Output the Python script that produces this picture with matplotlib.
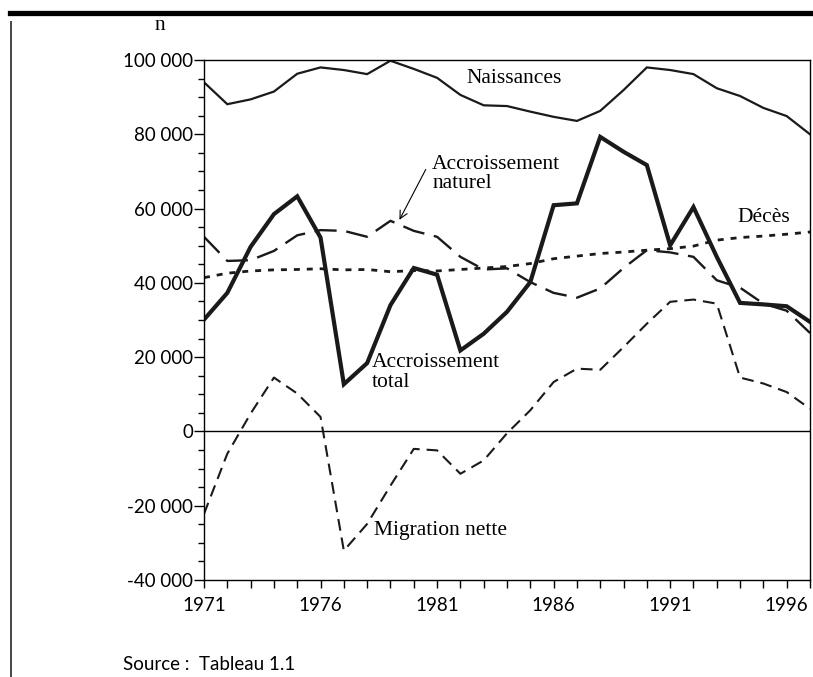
import numpy as np
import matplotlib
matplotlib.use("Agg")
import matplotlib.pyplot as plt
from matplotlib.ticker import MultipleLocator, FixedLocator, FuncFormatter
from matplotlib.lines import Line2D

# data, in thousands
years = np.arange(1971, 1998)
naissances = [94.0, 88.1, 89.4, 91.5, 96.3, 98.0, 97.3, 96.2, 99.8, 97.6, 95.2, 90.6, 87.8,
              87.6, 86.1, 84.7, 83.6, 86.3, 91.9, 98.0, 97.3, 96.2, 92.4, 90.3, 87.1, 84.9, 80.0]
acc_total = [30.1, 37.3, 49.7, 58.5, 63.3, 52.2, 12.7, 18.4, 34.0, 44.0, 42.2, 21.8, 26.3,
             32.2, 40.2, 60.9, 61.4, 79.3, 75.3, 71.7, 50.1, 60.4, 47.0, 34.6, 34.2, 33.7, 29.5]
acc_naturel = [52.4, 45.9, 46.1, 48.6, 52.8, 54.2, 54.0, 52.4, 56.7, 54.0, 52.4, 47.0, 43.6,
               43.9, 40.2, 37.3, 36.0, 38.5, 44.0, 48.8, 48.2, 47.0, 40.7, 38.7, 34.4, 32.5, 26.5]
deces = [41.4, 42.6, 43.2, 43.5, 43.6, 43.8, 43.5, 43.6, 43.0, 43.3, 43.2, 43.6, 44.0,
         44.4, 45.2, 46.5, 47.2, 47.9, 48.3, 48.8, 49.2, 49.9, 51.5, 52.2, 52.6, 53.1, 53.7]
migration = [-22.2, -6.0, 4.8, 14.5, 10.2, 3.9, -32.1, -24.9, -14.6, -4.7, -5.1, -11.4, -7.8,
             -0.5, 5.7, 13.3, 16.9, 16.6, 22.7, 29.0, 34.9, 35.5, 34.4, 14.5, 12.9, 10.6, 6.1]
year_labels = [1971, 1976, 1981, 1986, 1991, 1996]

plt.rcParams['lines.scale_dashes'] = False
serif = 'Liberation Serif'
sans = 'Lato'

W, H = 813, 677
fig = plt.figure(figsize=(W / 100, H / 100), dpi=100)
ax = fig.add_axes([204 / W, 1 - 580 / H, (810 - 204) / W, (580 - 60) / H])

k = lambda v: np.array(v) * 1000

ax.axhline(0, color='black', lw=1.0, zorder=1)
ax.plot(years, k(naissances), color='#1a1a1a', lw=1.6, solid_joinstyle='miter')
ax.plot(years, k(acc_total), color='#1a1a1a', lw=3.0, solid_joinstyle='miter')
ax.plot(years, k(acc_naturel), color='#1a1a1a', lw=1.7, dashes=(16, 7))
ax.plot(years, k(deces), color='#1a1a1a', lw=2.0, dashes=(4.3, 5))
ax.plot(years, k(migration), color='#1a1a1a', lw=1.5, dashes=(8.5, 5))

ax.set_xlim(1971, 1997)
ax.set_ylim(-40000, 100000)

ax.xaxis.set_major_locator(FixedLocator(year_labels))
ax.xaxis.set_minor_locator(MultipleLocator(1))
ax.yaxis.set_major_locator(MultipleLocator(20000))
ax.yaxis.set_minor_locator(MultipleLocator(5000))
ax.yaxis.set_major_formatter(FuncFormatter(lambda v, p: f"{int(v):,}".replace(',', ' ')))

ax.tick_params(axis='x', which='both', direction='out', length=6, width=1.0, pad=6)
ax.tick_params(axis='y', which='major', direction='out', length=7, width=1.0, pad=1)
ax.tick_params(axis='y', which='minor', direction='out', length=4, width=1.0)
for lab in ax.get_xticklabels() + ax.get_yticklabels():
    lab.set_fontfamily(sans)
    lab.set_fontsize(13.5)
for s in ax.spines.values():
    s.set_linewidth(1.0)

tkw = dict(family=serif, fontsize=15.5, color='black', va='center', ha='left')
ax.text(1982.28, 95100, "Naissances", **tkw)
ax.text(1980.79, 69300, "Accroissement\nnaturel", linespacing=1.05, **tkw)
ax.text(1993.9, 57700, "Décès", **tkw)
ax.text(1978.18, 15800, "Accroissement\ntotal", linespacing=1.05, **tkw)
ax.text(1978.3, -26700, "Migration nette", **tkw)
ax.annotate('', xy=(1979.33, 56300), xytext=(1980.57, 71200),
            arrowprops=dict(arrowstyle='->', lw=0.8, color='black', mutation_scale=14))

# page decorations
fig.add_artist(Line2D([10 / W, 1], [1 - 12.5 / H] * 2, color='black', lw=3.8))
fig.add_artist(Line2D([11 / W] * 2, [1 - 22 / H, 0], color='#444444', lw=1.4))
fig.text(160 / W, 1 - 25 / H, "n", family=serif, fontsize=15.5, ha='center', va='center')
fig.text(123 / W, 1 - 656 / H, "Source :  Tableau 1.1", family=sans, fontsize=13.5,
         ha='left', va='top')

fig.savefig("out.png", dpi=100)
